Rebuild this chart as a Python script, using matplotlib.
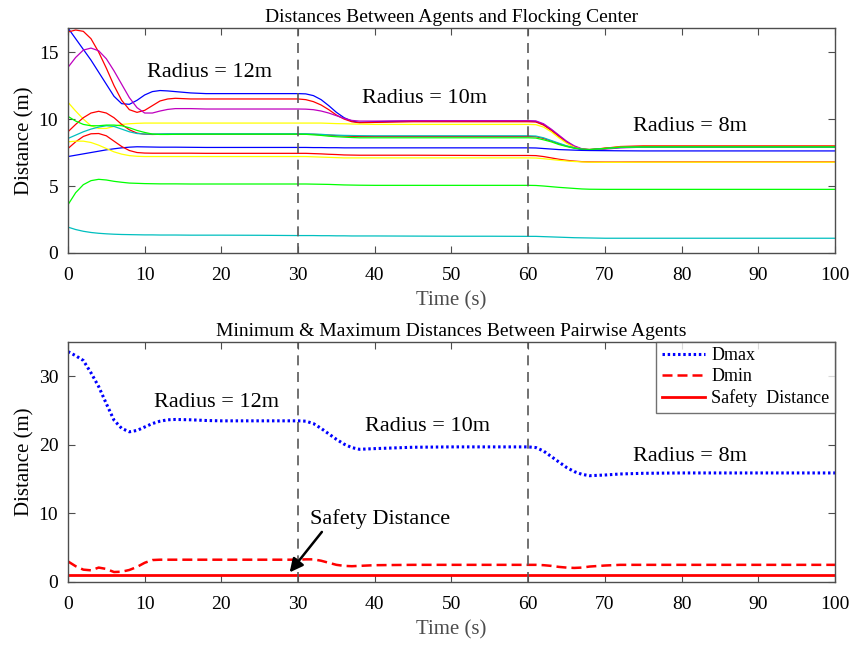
import matplotlib
matplotlib.use("Agg")
import matplotlib.pyplot as plt

plt.rcParams['font.family'] = ['Liberation Serif', 'DejaVu Serif']

# time samples (s)
t = [0, 1, 2, 3, 4, 5, 6, 7, 8, 9, 10, 11, 12, 13, 14, 16, 18, 20, 25, 30,
     31, 32, 33, 34, 35, 36, 37, 38, 40, 45, 50, 55, 60,
     61, 62, 63, 64, 65, 66, 67, 68, 70, 72, 75, 80, 90, 100]

# distances between each agent and the flocking center (m)
blue_a = [16.8, 16.0, 15.2, 14.4, 13.5, 12.6, 11.7, 11.15, 11.1, 11.4, 11.8, 12.05, 12.13, 12.1, 12.05, 11.95, 11.9, 11.9, 11.9, 11.9,
          11.88, 11.75, 11.45, 11.0, 10.5, 10.1, 9.85, 9.75, 9.8, 9.85, 9.85, 9.85, 9.85,
          9.82, 9.6, 9.2, 8.75, 8.3, 7.95, 7.75, 7.7, 7.8, 7.88, 7.9, 7.9, 7.9, 7.9]
red_a = [16.5, 16.65, 16.55, 16.0, 15.0, 13.8, 12.5, 11.4, 10.7, 10.5, 10.65, 11.0, 11.35, 11.5, 11.55, 11.5, 11.5, 11.5, 11.5, 11.5,
         11.45, 11.3, 11.05, 10.7, 10.3, 10.0, 9.8, 9.72, 9.75, 9.8, 9.8, 9.8, 9.8,
         9.78, 9.55, 9.15, 8.7, 8.25, 7.9, 7.72, 7.68, 7.82, 7.95, 8.0, 8.0, 8.0, 8.0]
magenta = [13.86, 14.6, 15.15, 15.3, 15.1, 14.5, 13.6, 12.6, 11.6, 10.85, 10.45, 10.45, 10.6, 10.72, 10.78, 10.78, 10.75, 10.75, 10.75, 10.75,
           10.74, 10.7, 10.6, 10.45, 10.25, 10.05, 9.9, 9.85, 9.85, 9.88, 9.88, 9.88, 9.88,
           9.86, 9.65, 9.25, 8.8, 8.35, 8.0, 7.78, 7.7, 7.75, 7.85, 7.9, 7.9, 7.9, 7.9]
yellow_a = [11.25, 10.6, 10.0, 9.5, 9.3, 9.3, 9.45, 9.6, 9.65, 9.68, 9.7, 9.7, 9.7, 9.7, 9.7, 9.7, 9.7, 9.7, 9.7, 9.7,
            9.7, 9.7, 9.7, 9.68, 9.66, 9.65, 9.63, 9.62, 9.6, 9.6, 9.6, 9.6, 9.6,
            9.58, 9.4, 9.05, 8.6, 8.2, 7.9, 7.75, 7.72, 7.82, 7.92, 7.95, 7.95, 7.95, 7.95]
red_b = [9.05, 9.6, 10.1, 10.45, 10.58, 10.45, 10.1, 9.6, 9.2, 8.95, 8.87, 8.85, 8.86, 8.87, 8.87, 8.87, 8.87, 8.87, 8.87, 8.87,
         8.87, 8.86, 8.83, 8.8, 8.76, 8.73, 8.71, 8.7, 8.7, 8.7, 8.7, 8.7, 8.7,
         8.68, 8.55, 8.35, 8.15, 7.98, 7.85, 7.76, 7.73, 7.82, 7.9, 7.93, 7.93, 7.93, 7.93]
cyan_a = [8.55, 8.8, 9.05, 9.25, 9.4, 9.5, 9.45, 9.25, 9.05, 8.92, 8.88, 8.88, 8.89, 8.9, 8.9, 8.9, 8.9, 8.9, 8.9, 8.9,
          8.9, 8.88, 8.86, 8.82, 8.8, 8.78, 8.77, 8.76, 8.75, 8.75, 8.75, 8.75, 8.75,
          8.73, 8.6, 8.4, 8.2, 8.0, 7.85, 7.75, 7.72, 7.8, 7.88, 7.9, 7.9, 7.9, 7.9]
green_a = [10.2, 9.85, 9.6, 9.5, 9.5, 9.55, 9.55, 9.5, 9.35, 9.15, 9.0, 8.88, 8.85, 8.85, 8.86, 8.87, 8.87, 8.87, 8.87, 8.87,
           8.86, 8.82, 8.78, 8.72, 8.68, 8.65, 8.62, 8.6, 8.6, 8.6, 8.6, 8.6, 8.6,
           8.58, 8.45, 8.3, 8.1, 7.95, 7.82, 7.74, 7.72, 7.8, 7.9, 7.92, 7.92, 7.92, 7.92]
blue_b = [7.2, 7.3, 7.4, 7.5, 7.6, 7.7, 7.78, 7.85, 7.9, 7.93, 7.92, 7.91, 7.9, 7.9, 7.9, 7.89, 7.88, 7.88, 7.88, 7.88,
          7.88, 7.87, 7.87, 7.86, 7.86, 7.85, 7.85, 7.85, 7.85, 7.85, 7.85, 7.85, 7.85,
          7.84, 7.8, 7.76, 7.72, 7.7, 7.68, 7.66, 7.65, 7.64, 7.63, 7.62, 7.62, 7.62, 7.62]
red_c = [7.8, 8.3, 8.7, 8.9, 8.92, 8.75, 8.35, 7.95, 7.65, 7.5, 7.46, 7.45, 7.45, 7.45, 7.45, 7.45, 7.44, 7.44, 7.44, 7.44,
         7.44, 7.42, 7.4, 7.37, 7.35, 7.32, 7.31, 7.3, 7.3, 7.3, 7.29, 7.28, 7.28,
         7.27, 7.2, 7.1, 7.0, 6.92, 6.86, 6.82, 6.8, 6.79, 6.79, 6.8, 6.8, 6.8, 6.8]
yellow_b = [8.3, 8.35, 8.35, 8.25, 8.05, 7.8, 7.55, 7.38, 7.27, 7.22, 7.2, 7.2, 7.2, 7.2, 7.2, 7.2, 7.2, 7.2, 7.2, 7.2,
            7.2, 7.18, 7.16, 7.14, 7.12, 7.1, 7.1, 7.1, 7.1, 7.1, 7.1, 7.1, 7.1,
            7.09, 7.04, 6.98, 6.92, 6.87, 6.83, 6.8, 6.78, 6.77, 6.77, 6.78, 6.78, 6.78, 6.78]
green_b = [3.6, 4.5, 5.1, 5.4, 5.5, 5.45, 5.35, 5.28, 5.22, 5.2, 5.18, 5.17, 5.16, 5.16, 5.16, 5.15, 5.15, 5.15, 5.15, 5.15,
           5.15, 5.14, 5.13, 5.12, 5.1, 5.08, 5.07, 5.06, 5.05, 5.05, 5.05, 5.05, 5.05,
           5.04, 5.0, 4.95, 4.9, 4.86, 4.82, 4.78, 4.76, 4.75, 4.75, 4.75, 4.75, 4.75, 4.75]
cyan_b = [1.93, 1.75, 1.62, 1.53, 1.47, 1.43, 1.4, 1.38, 1.37, 1.36, 1.35, 1.35, 1.34, 1.34, 1.34, 1.33, 1.33, 1.33, 1.32, 1.3,
          1.3, 1.3, 1.29, 1.29, 1.28, 1.28, 1.27, 1.27, 1.27, 1.26, 1.25, 1.25, 1.24,
          1.24, 1.22, 1.2, 1.18, 1.16, 1.14, 1.13, 1.12, 1.1, 1.1, 1.1, 1.1, 1.1, 1.1]

agents = [blue_a, red_a, magenta, yellow_a, red_b, cyan_a, green_a,
          blue_b, red_c, yellow_b, green_b, cyan_b]
agent_colors = ['b', 'r', 'm', '#ffff00', 'r', 'c', '#00ff00',
                'b', 'r', '#ffff00', '#00ff00', 'c']

# pairwise min / max distances (m)
dmax = [33.6, 33.0, 32.3, 30.5, 28.5, 26.0, 23.6, 22.4, 21.9, 22.1, 22.6, 23.1, 23.45, 23.65, 23.7, 23.65, 23.55, 23.5, 23.5, 23.5,
        23.45, 23.1, 22.4, 21.6, 20.8, 20.1, 19.6, 19.35, 19.45, 19.65, 19.7, 19.7, 19.7,
        19.6, 19.1, 18.3, 17.5, 16.7, 16.1, 15.7, 15.5, 15.6, 15.75, 15.85, 15.9, 15.9, 15.9]
dmin = [3.0, 2.3, 1.8, 1.7, 2.1, 1.9, 1.45, 1.5, 1.75, 2.2, 2.8, 3.2, 3.25, 3.25, 3.25, 3.25, 3.25, 3.25, 3.25, 3.25,
        3.3, 3.3, 3.1, 2.8, 2.5, 2.35, 2.3, 2.35, 2.45, 2.5, 2.5, 2.5, 2.5,
        2.5, 2.45, 2.35, 2.2, 2.1, 2.05, 2.1, 2.25, 2.4, 2.5, 2.5, 2.5, 2.5, 2.5]
safety = 1.0

switch_times = [30, 60]
radius_labels = ['Radius = 12m', 'Radius = 10m', 'Radius = 8m']
radius_pos_top = [(18.5, 13.45), (46.5, 11.5), (81.1, 9.47)]
radius_pos_bot = [(19.3, 26.2), (46.9, 22.7), (81.1, 18.3)]

fig = plt.figure(figsize=(8.53, 6.45), dpi=100)
ax1 = fig.add_axes([0.0797, 0.6078, 0.8992, 0.3488])
ax2 = fig.add_axes([0.0797, 0.0977, 0.8992, 0.3721])


def style(ax, ylim, yticks):
    ax.set_xlim(0, 100)
    ax.set_ylim(*ylim)
    ax.set_xticks(range(0, 101, 10))
    ax.set_yticks(yticks)
    ax.tick_params(direction='in', top=True, right=True, labelsize=14, length=5,
                   color='0.3', pad=7)
    ax.tick_params(axis='x', pad=10)
    for s in ax.spines.values():
        s.set_color('0.3')
        s.set_linewidth(1.0)
    ax.set_xlabel('Time (s)', fontsize=15, color='0.3', labelpad=5)
    ax.set_ylabel('Distance (m)', fontsize=15, labelpad=3)
    for ts in switch_times:
        ax.axvline(ts, color='0.35', lw=1.2, ls=(0, (6, 4)))


# top plot
for d, c in zip(agents, agent_colors):
    ax1.plot(t, d, color=c, lw=0.9)
style(ax1, (0, 16.8), [0, 5, 10, 15])
ax1.set_title('Distances Between Agents and Flocking Center', fontsize=14, pad=4)
for lab, (x, y) in zip(radius_labels, radius_pos_top):
    ax1.text(x, y, lab, fontsize=16, ha='center', va='center')

# bottom plot
ax2.plot(t, dmax, color='b', lw=2.2, ls=(0, (0.8, 0.9)), label='Dmax')
ax2.plot(t, dmin, color='r', lw=1.8, ls=(0, (4, 2)), label='Dmin')
ax2.axhline(safety, color='r', lw=2.0, label='Safety  Distance')
style(ax2, (0, 35), [0, 10, 20, 30])
ax2.set_title('Minimum & Maximum Distances Between Pairwise Agents', fontsize=14, pad=4)
for lab, (x, y) in zip(radius_labels, radius_pos_bot):
    ax2.text(x, y, lab, fontsize=16, ha='center', va='center')
ax2.text(40.7, 9.2, 'Safety Distance', fontsize=16, ha='center', va='center')
ax2.annotate('', xy=(28.9, 1.4), xytext=(33.1, 7.3),
             arrowprops=dict(arrowstyle='-|>', color='k', lw=1.8, mutation_scale=20,
                             shrinkA=0, shrinkB=0))
leg = ax2.legend(loc='upper right', fontsize=13, frameon=True, fancybox=False,
                 edgecolor='0.3', borderaxespad=0, handlelength=2.4,
                 labelspacing=0.22, borderpad=0.3, handletextpad=0.35)
leg.get_frame().set_linewidth(1.0)

fig.savefig('out.png', dpi=100)
